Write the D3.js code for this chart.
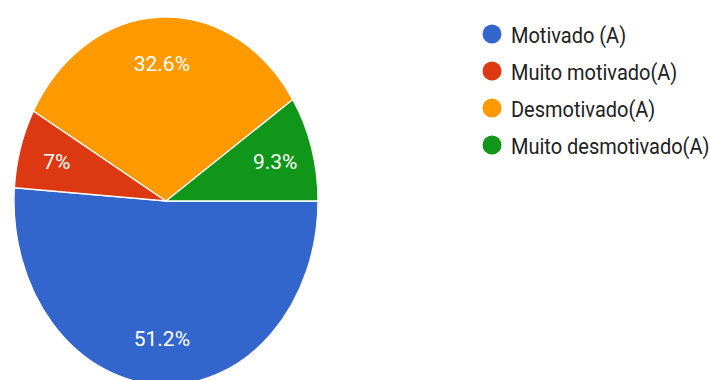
<!DOCTYPE html>
<html>
<head>
<meta charset="utf-8">
<script src="https://cdn.jsdelivr.net/npm/d3@7"></script>
<style>
  html, body { margin: 0; padding: 0; background: #fff; }
  svg { display: block; }
</style>
</head>
<body>
<svg id="chart" width="710" height="380"></svg>
<script>
// Answer categories, in drawing order (clockwise from 3 o'clock)
const categories = ["Motivado (A)", "Muito motivado(A)", "Desmotivado(A)", "Muito desmotivado(A)"];
// Share of responses, percent
const percentages = [51.2, 7, 32.6, 9.3];
// Slice colours
const colors = ["#3366cc", "#dc3912", "#ff9900", "#109618"];

const svg = d3.select("#chart");
const W = 710, H = 380;

// Pie geometry: drawn as a circle then stretched vertically into an ellipse
const cx = 166, cy = 201;
const rx = 152, ry = 184;
const stretch = ry / rx;

const pie = d3.pie()
  .sort(null)
  .value(d => d)
  .startAngle(Math.PI / 2)
  .endAngle(Math.PI / 2 + 2 * Math.PI);

const arcs = pie(percentages);

const arc = d3.arc().innerRadius(0).outerRadius(rx);
const labelArc = d3.arc().innerRadius(rx * 0.75).outerRadius(rx * 0.75);

const pieG = svg.append("g")
  .attr("transform", `translate(${cx},${cy}) scale(1,${stretch})`);

pieG.selectAll("path")
  .data(arcs)
  .join("path")
  .attr("d", arc)
  .attr("fill", (d, i) => colors[i])
  .attr("stroke", "#ffffff")
  .attr("stroke-width", 1.3)
  .attr("vector-effect", "non-scaling-stroke");

// Percentage labels inside slices
svg.append("g")
  .selectAll("text")
  .data(arcs)
  .join("text")
  .attr("x", d => cx + labelArc.centroid(d)[0])
  .attr("y", d => cy + labelArc.centroid(d)[1] * stretch)
  .attr("text-anchor", "middle")
  .attr("dy", "0.36em")
  .attr("font-family", "Roboto, Arial, sans-serif")
  .attr("font-size", 21)
  .attr("fill", "#ffffff")
  .text(d => d.data + "%");

// Legend
const legend = svg.append("g").attr("transform", "translate(492,34)");
const rows = legend.selectAll("g")
  .data(categories)
  .join("g")
  .attr("transform", (d, i) => `translate(0,${i * 37})`);

rows.append("ellipse")
  .attr("rx", 9.5)
  .attr("ry", 9.5)
  .attr("fill", (d, i) => colors[i]);

rows.append("text")
  .attr("transform", "translate(19,9) scale(1,1.12)")
  .attr("font-family", "Roboto, Arial, sans-serif")
  .attr("font-size", 20)
  .attr("fill", "#222222")
  .text(d => d);
</script>
</body>
</html>
